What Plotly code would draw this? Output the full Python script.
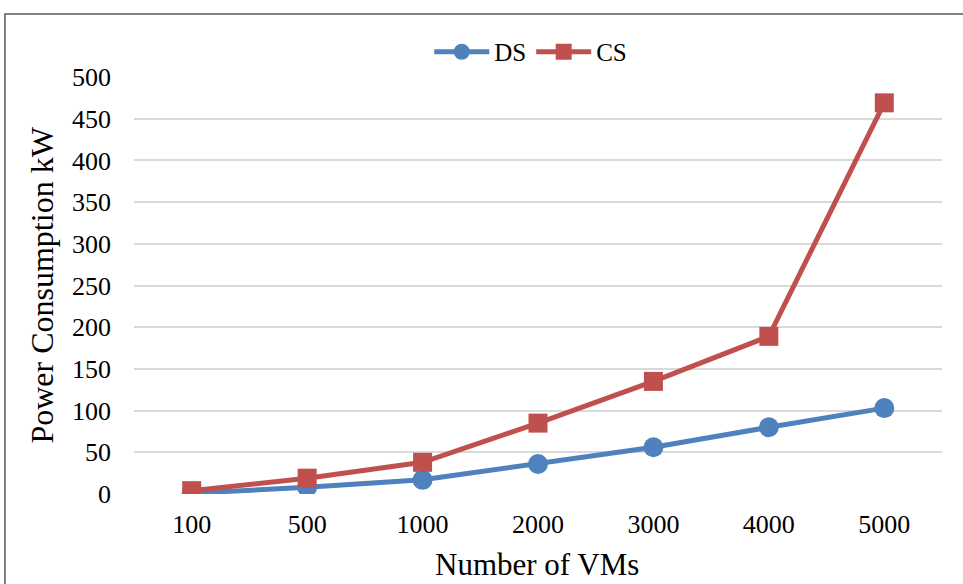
import plotly.graph_objects as go

categories = ["100", "500", "1000", "2000", "3000", "4000", "5000"]
ds_values = [1, 8, 17, 36, 56, 80, 103]
cs_values = [4, 19, 38, 85, 135, 189, 469]
y_ticks = [0, 50, 100, 150, 200, 250, 300, 350, 400, 450, 500]

FONT = "Liberation Serif, Times New Roman, serif"

fig = go.Figure()
fig.add_trace(go.Scatter(
    x=categories, y=ds_values, name="DS", mode="lines+markers",
    line=dict(color="#4F81BD", width=5),
    marker=dict(symbol="circle", size=20, color="#4F81BD"),
))
fig.add_trace(go.Scatter(
    x=categories, y=cs_values, name="CS", mode="lines+markers",
    line=dict(color="#C0504D", width=5),
    marker=dict(symbol="square", size=19, color="#C0504D"),
))

fig.update_layout(
    width=963, height=584,
    margin=dict(l=134, r=21, t=77, b=90, autoexpand=False),
    paper_bgcolor="white", plot_bgcolor="white",
    font=dict(family=FONT, size=26, color="black"),
    showlegend=True,
    legend=dict(orientation="h", x=0.491, xanchor="center", xref="paper",
                y=0.911, yanchor="middle", yref="container",
                font=dict(size=25), traceorder="normal", itemwidth=55,
                bgcolor="rgba(0,0,0,0)"),
    xaxis=dict(
        type="category", showgrid=False, showline=False, zeroline=False,
        ticks="", tickfont=dict(size=26), automargin=False,
        ticklabelstandoff=12,
        range=[-0.5, 6.5],
    ),
    yaxis=dict(
        range=[0, 500], tickvals=y_ticks, showgrid=True, gridcolor="#D9D9D9", gridwidth=2,
        zeroline=False, showline=False, ticks="", tickfont=dict(size=26), automargin=False,
        ticklabelstandoff=22,
    ),
    annotations=[
        dict(text="Number of VMs", xref="paper", yref="paper", x=0.499, y=-0.168,
             xanchor="center", yanchor="middle", showarrow=False, font=dict(size=31)),
        dict(text="Power Consumption kW", xref="paper", yref="paper", x=-0.115, y=0.5,
             xanchor="center", yanchor="middle", textangle=-90, showarrow=False,
             font=dict(size=32)),
    ],
    shapes=[dict(type="rect", xref="paper", yref="paper",
                 x0=-0.1597, x1=1.2, y0=-0.4, y1=1.151,
                 line=dict(color="#595959", width=1.5), fillcolor="rgba(0,0,0,0)", layer="below")],
)

fig.write_html("out.html", config={"displayModeBar": False},
               post_script="document.body.style.margin='0px';")
